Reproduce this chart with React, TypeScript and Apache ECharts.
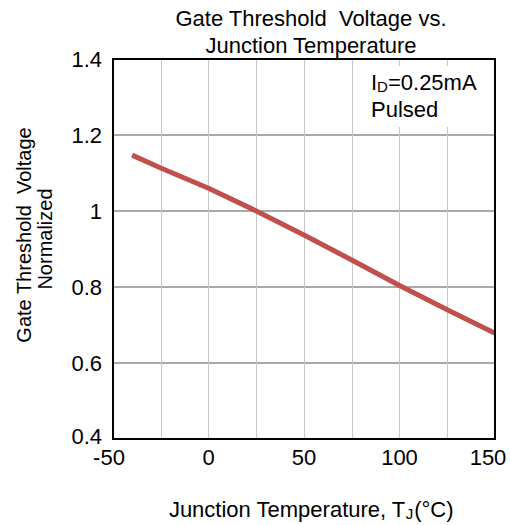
import React, { useEffect, useRef } from "react";
import * as echarts from "echarts";

const temperatures = [-40, -25, 0, 25, 50, 75, 100, 125, 150];
const vthNormalized = [1.147, 1.113, 1.06, 1.0, 0.937, 0.871, 0.804, 0.74, 0.678];
const titleLines = ["Gate Threshold  Voltage vs.", "Junction Temperature"];
const yNameLines = ["Gate Threshold  Voltage", "Normalized"];

const FONT = "'Liberation Sans', Arial, sans-serif";

const X_MIN = -50;
const X_MAX = 150;
const Y_MIN = 0.4;

const GRID_LEFT = 113;
const GRID_TOP = 59;
const GRID_W = 382;
const GRID_H = 380;

export default function App() {
  const ref = useRef<HTMLDivElement>(null);
  useEffect(() => {
    if (!ref.current) return;
    const chart = echarts.init(ref.current, undefined, { renderer: "svg" });
    const labelBase = { fontFamily: FONT, fontSize: 22, color: "#000" };
    chart.setOption({
      animation: false,
      backgroundColor: "#ffffff",
      textStyle: { fontFamily: FONT },
      title: {
        text: titleLines.join("\n"),
        left: 306,
        top: 0,
        textAlign: "center",
        textStyle: { fontFamily: FONT, fontSize: 22, fontWeight: "normal", color: "#000", lineHeight: 27 },
      },
      grid: {
        left: GRID_LEFT,
        right: 510 - GRID_LEFT - GRID_W,
        top: GRID_TOP,
        bottom: 525 - GRID_TOP - GRID_H,
        show: false,
        containLabel: false,
        outerBoundsMode: "none",
      },
      xAxis: {
        type: "value",
        min: X_MIN,
        max: X_MAX,
        interval: 25,
        name: "Junction Temperature, T{s|J}(°C)",
        nameLocation: "middle",
        nameGap: 58,
        nameTextStyle: {
          fontFamily: FONT,
          fontSize: 22,
          color: "#000",
          padding: [0, 0, 0, 14],
          rich: {
            s: { fontFamily: FONT, fontSize: 15, color: "#000", padding: [9, 1, 0, 0] },
          },
        },
        axisLine: { show: false },
        axisTick: { show: false },
        axisLabel: {
          ...labelBase,
          margin: 7,
          formatter: (v: number) => {
            if (v % 50 !== 0) return "";
            if (v === X_MIN) return "{l|" + v + "}";
            if (v === X_MAX) return "{r|" + v + "}";
            return String(v);
          },
          rich: {
            l: { ...labelBase, padding: [0, 8, 0, 0] },
            r: { ...labelBase, padding: [0, 14, 0, 0] },
          },
        },
        splitLine: { show: true, lineStyle: { color: "#c8c8c8", width: 1 } },
      },
      yAxis: {
        type: "value",
        min: Y_MIN,
        max: 1.4,
        interval: 0.2,
        axisLine: { show: false },
        axisTick: { show: false },
        axisLabel: {
          ...labelBase,
          margin: 11,
          formatter: (v: number) => {
            const s = String(Math.round(v * 10) / 10);
            return Math.abs(v - Y_MIN) < 1e-6 ? "{b|" + s + "}" : s;
          },
          rich: {
            b: { ...labelBase, padding: [0, 0, 6, 0] },
          },
        },
        splitLine: { show: true, lineStyle: { color: "#8c8c8c", width: 1.5 } },
      },
      graphic: [
        {
          type: "rect",
          shape: { x: 366, y: 66, width: 127, height: 61 },
          style: { fill: "#ffffff" },
          z: 10,
        },
        {
          type: "polygon",
          shape: {
            points: [
              [GRID_LEFT, GRID_TOP],
              [GRID_LEFT + GRID_W, GRID_TOP],
              [GRID_LEFT + GRID_W, GRID_TOP + GRID_H],
              [GRID_LEFT, GRID_TOP + GRID_H],
            ],
          },
          style: { fill: null, stroke: "#000000", lineWidth: 2 },
          silent: true,
          z: 20,
        },
        {
          type: "text",
          x: 371,
          y: 70,
          z: 11,
          style: {
            text: "{a|I}{s|D}{a|=0.25mA}",
            rich: {
              a: { fontFamily: FONT, fontSize: 22, fill: "#000" },
              s: { fontFamily: FONT, fontSize: 15, fill: "#000", padding: [9, 0, 0, 0] },
            },
          },
        },
        {
          type: "text",
          x: 371,
          y: 98,
          z: 11,
          style: { text: "Pulsed", fontFamily: FONT, fontSize: 22, fill: "#000" },
        },
        {
          type: "text",
          x: 24,
          y: 235,
          rotation: Math.PI / 2,
          style: {
            text: yNameLines[0],
            fontFamily: FONT,
            fontSize: 20,
            fill: "#000",
            align: "center",
            verticalAlign: "middle",
          },
        },
        {
          type: "text",
          x: 45,
          y: 239,
          rotation: Math.PI / 2,
          style: {
            text: yNameLines[1],
            fontFamily: FONT,
            fontSize: 20,
            fill: "#000",
            align: "center",
            verticalAlign: "middle",
          },
        },
      ],
      series: [
        {
          type: "line",
          data: temperatures.map((t, i) => [t, vthNormalized[i]]),
          symbol: "none",
          smooth: false,
          lineStyle: { color: "#c0504d", width: 5 },
          z: 5,
        },
      ],
    });
    return () => chart.dispose();
  }, []);
  return (
    <div
      ref={ref}
      style={{ position: "fixed", left: 0, top: 0, width: 510, height: 525 }}
    />
  );
}
